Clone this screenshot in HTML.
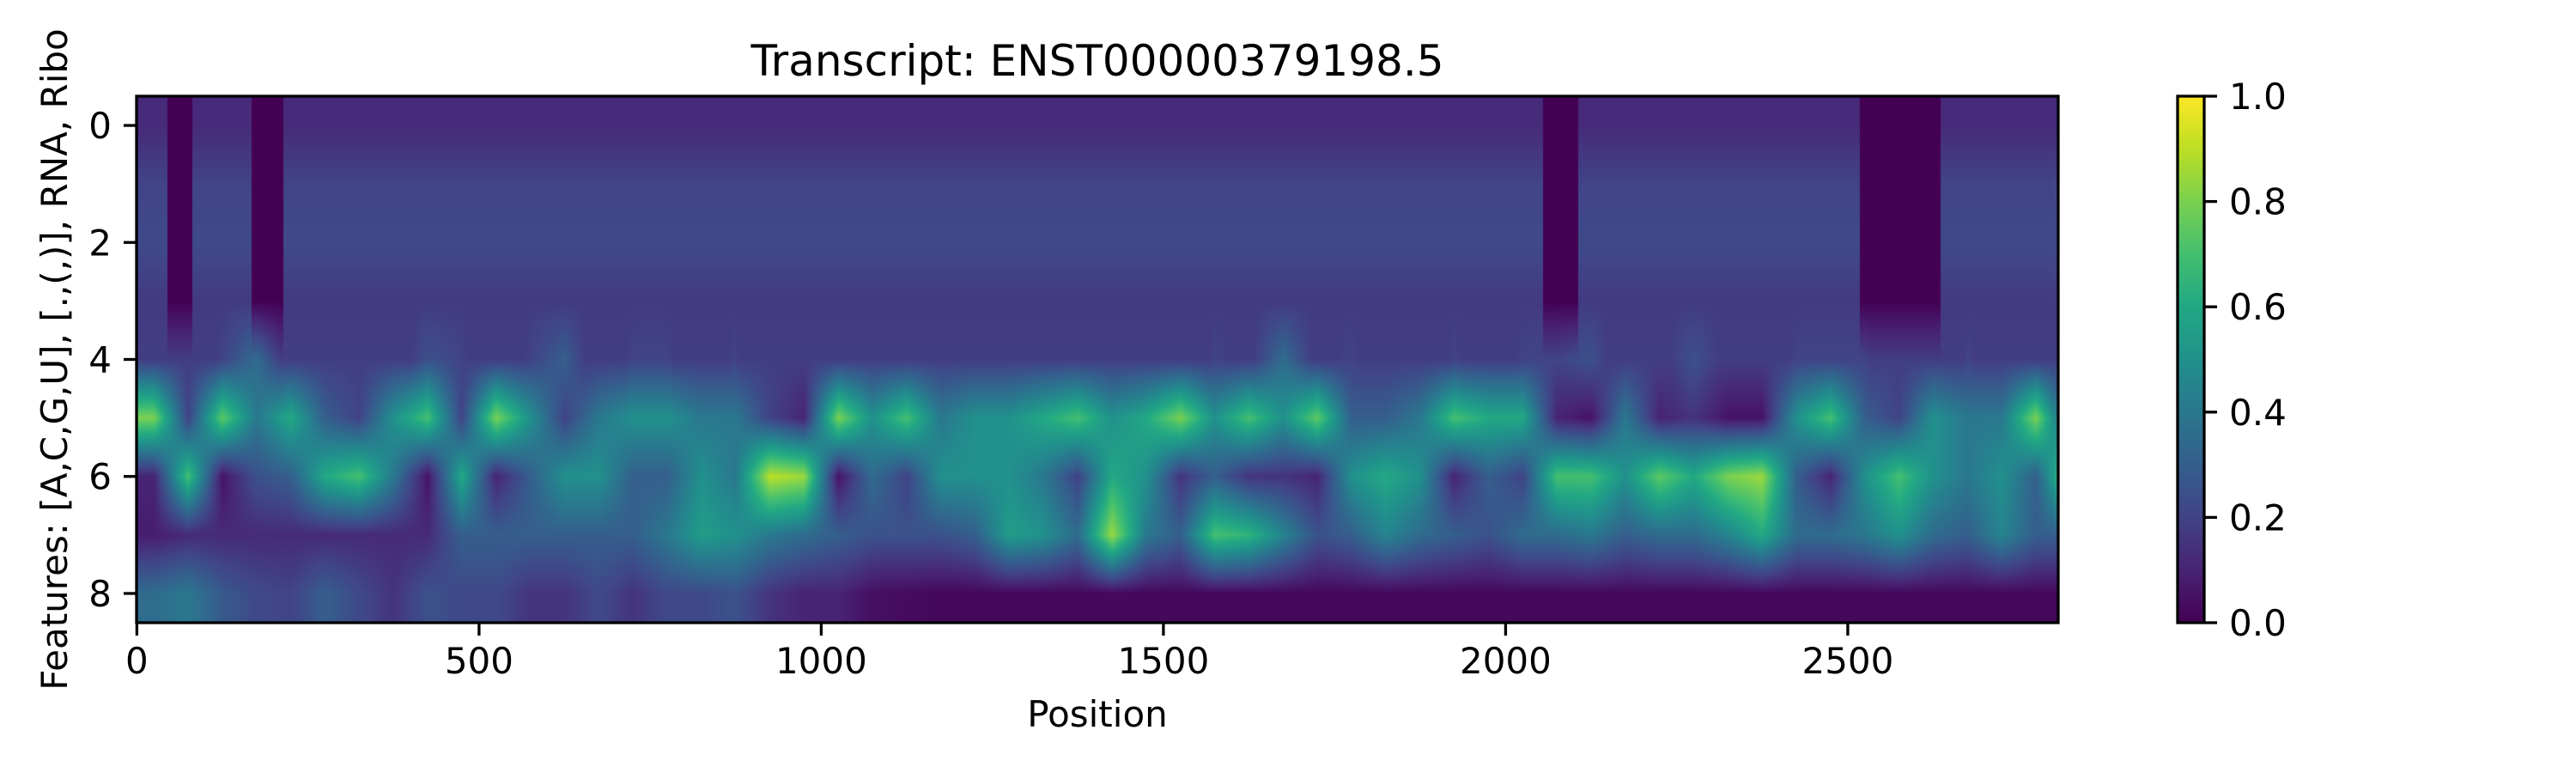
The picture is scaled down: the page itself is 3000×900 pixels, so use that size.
<!DOCTYPE html>
<html><head><meta charset="utf-8">
<style>
html,body{margin:0;padding:0;background:#fff;}
#wrap{position:relative;width:3000px;height:900px;overflow:hidden;font-family:"Liberation Sans",sans-serif;}
canvas{position:absolute;}
svg{position:absolute;left:0;top:0;}
text{font-family:"DejaVu Sans","Liberation Sans",sans-serif;fill:#000;}
</style></head>
<body>
<div id="wrap">
<canvas id="heat" width="2238" height="613" style="left:159px;top:112px;"></canvas>
<canvas id="cbar" width="31" height="613" style="left:2536px;top:112px;"></canvas>
<svg id="ax" width="3000" height="900"></svg>
</div>
<script>
// ---- data (per 50-position bins) ----
const nPositions = 2808;
const binSize = 50;
const xTicks = [0,500,1000,1500,2000,2500];
const yTicks = [0,2,4,6,8];
const cbTicks = [0.0,0.2,0.4,0.6,0.8,1.0];
const nucMeans = [0.12,0.2,0.22,0.17];
const nucGaps = [[45,81],[168,214],[2055,2106],[2518,2636]];
const pairOpen = [0.8,0.2,0.75,0.4,0.6,0.3,0.2,0.5,0.7,0.2,0.8,0.5,0.2,0.4,0.5,0.5,0.4,0.4,0.2,
 0.1,0.8,0.5,0.7,0.4,0.5,0.5,0.6,0.7,0.5,0.6,0.8,0.5,0.7,0.5,0.75,0.3,0.3,0.4,
 0.7,0.6,0.6,0.1,0.05,0.4,0.1,0.15,0.05,0.05,0.5,0.7,0.3,0.2,0.5,0.4,0.4,0.8,0.2];
const pairClose = [0.1,0.7,0.05,0.25,0.3,0.6,0.7,0.4,0.05,0.6,0.1,0.3,0.5,0.5,0.3,0.3,0.5,0.4,0.9,
 0.85,0.05,0.35,0.2,0.5,0.5,0.5,0.4,0.2,0.6,0.5,0.15,0.3,0.15,0.15,0.1,0.5,0.6,0.5,
 0.1,0.3,0.2,0.7,0.7,0.5,0.75,0.6,0.8,0.85,0.3,0.1,0.5,0.7,0.5,0.4,0.5,0.3,0.8];
const rnaSignal = [0.08,0.12,0.12,0.12,0.12,0.12,0.12,0.12,0.12,0.3,0.3,0.3,0.3,0.3,0.3,0.4,0.55,0.5,0.4,
 0.35,0.3,0.25,0.25,0.25,0.3,0.55,0.5,0.35,0.85,0.4,0.3,0.7,0.65,0.45,0.25,0.3,0.45,0.35,
 0.3,0.25,0.35,0.35,0.4,0.3,0.35,0.35,0.45,0.6,0.35,0.35,0.4,0.5,0.35,0.3,0.45,0.3,0.3];
const riboSignal = [0.35,0.4,0.28,0.22,0.2,0.3,0.22,0.15,0.25,0.22,0.22,0.15,0.15,0.22,0.15,0.22,0.22,0.25,0.15,
 0.1,0.1,0.04,0.03,0.02,0.02,0.02,0.02,0.02,0.02,0.02,0.02,0.02,0.02,0.02,0.02,0.02,0.02,0.02,
 0.02,0.02,0.02,0.02,0.02,0.02,0.02,0.02,0.02,0.02,0.02,0.02,0.02,0.02,0.02,0.02,0.02,0.02,0.02];

// ---- geometry ----
const PL=159, PR=2397, PT=112, PB=725;
const xScale = p => PL + (p+0.5)/nPositions*(PR-PL);
const yScale = r => PT + (r+0.5)/9*(PB-PT);

const VIR=["#440154","#482475","#414487","#355f8d","#2a788e","#21918c","#22a884","#44bf70","#7ad151","#bddf26","#fde725"].map(h=>[parseInt(h.substr(1,2),16),parseInt(h.substr(3,2),16),parseInt(h.substr(5,2),16)]);
function viridis(v){v=Math.max(0,Math.min(1,v));const f=v*10;const i=Math.min(9,Math.floor(f));const t=f-i;const a=VIR[i],b=VIR[i+1];return [a[0]+(b[0]-a[0])*t,a[1]+(b[1]-a[1])*t,a[2]+(b[2]-a[2])*t];}
function binVal(arr,p){const f=p/binSize-0.5;let i=Math.floor(f);let t=f-i;const a=arr[Math.max(0,Math.min(arr.length-1,i))];const b=arr[Math.max(0,Math.min(arr.length-1,i+1))];return a+(b-a)*t;}
function rowsAt(p){
  let gap=false;for(const g of nucGaps){if(p>=g[0]&&p<=g[1])gap=true;}
  const o=binVal(pairOpen,p), c=binVal(pairClose,p);
  const dot=Math.max(0.18,1-o-c);
  const r=[];for(let k=0;k<4;k++)r.push(gap?0:nucMeans[k]);
  r.push(dot,o,c,binVal(rnaSignal,p),binVal(riboSignal,p));
  return r;
}
(function(){
  const cv=document.getElementById('heat');const ctx=cv.getContext('2d');
  const W=cv.width,H=cv.height;const img=ctx.createImageData(W,H);
  for(let x=0;x<W;x++){
    const p=(x+0.5)/W*nPositions-0.5;
    const rv=rowsAt(p);
    for(let y=0;y<H;y++){
      const fr=(y+0.5)/H*9-0.5;let i=Math.floor(fr);let t=fr-i;
      const a=rv[Math.max(0,Math.min(8,i))], b=rv[Math.max(0,Math.min(8,i+1))];
      const c=viridis(a+(b-a)*t);const k=(y*W+x)*4;
      img.data[k]=c[0];img.data[k+1]=c[1];img.data[k+2]=c[2];img.data[k+3]=255;
    }
  }
  ctx.putImageData(img,0,0);
  const cb=document.getElementById('cbar');const c2=cb.getContext('2d');
  for(let y=0;y<cb.height;y++){const c=viridis(1-y/(cb.height-1));c2.fillStyle=`rgb(${c[0]|0},${c[1]|0},${c[2]|0})`;c2.fillRect(0,y,cb.width,1);}
})();

// ---- axes ----
const svg=document.getElementById('ax');const NS='http://www.w3.org/2000/svg';
function mk(tag,attrs,txt){const e=document.createElementNS(NS,tag);for(const k in attrs)e.setAttribute(k,attrs[k]);if(txt!==undefined)e.textContent=txt;svg.appendChild(e);return e;}
let e;
e=mk('rect',{x:PL,y:PT,width:PR-PL,height:PB-PT,fill:'none',stroke:'#000','stroke-width':3.3});


for(const t of xTicks){
  const x=xScale(t);
  e=mk('line',{x1:x,x2:x,y1:PB,y2:PB+15,stroke:'#000','stroke-width':3.3});
  
  
  e=mk('text',{x:x,y:PB+59,'text-anchor':'middle','font-size':42},String(t));
  
  
}
for(const t of yTicks){
  const y=yScale(t);
  e=mk('line',{x1:PL-15,x2:PL,y1:y,y2:y,stroke:'#000','stroke-width':3.3});
  
  
  e=mk('text',{x:PL-29,y:y+15,'text-anchor':'end','font-size':42},String(t));
  
  
}
e=mk('text',{x:(PL+PR)/2,y:88,'text-anchor':'middle','font-size':50},'Transcript: ENST00000379198.5');


e=mk('text',{x:(PL+PR)/2,y:846,'text-anchor':'middle','font-size':42},'Position');


e=mk('text',{x:0,y:0,'text-anchor':'middle','font-size':42,transform:`translate(78,${(PT+PB)/2}) rotate(-90)`},'Features: [A,C,G,U], [.,(,)], RNA, Ribo');


const CL=2536,CR=2567;
e=mk('rect',{x:CL,y:PT,width:CR-CL,height:PB-PT,fill:'none',stroke:'#000','stroke-width':3.3});


for(const t of cbTicks){
  const y=PB-t*(PB-PT);
  e=mk('line',{x1:CR,x2:CR+15,y1:y,y2:y,stroke:'#000','stroke-width':3.3});
  
  
  e=mk('text',{x:CR+29,y:y+15,'text-anchor':'start','font-size':42},t.toFixed(1));
  
  
}
</script>
</body></html>
